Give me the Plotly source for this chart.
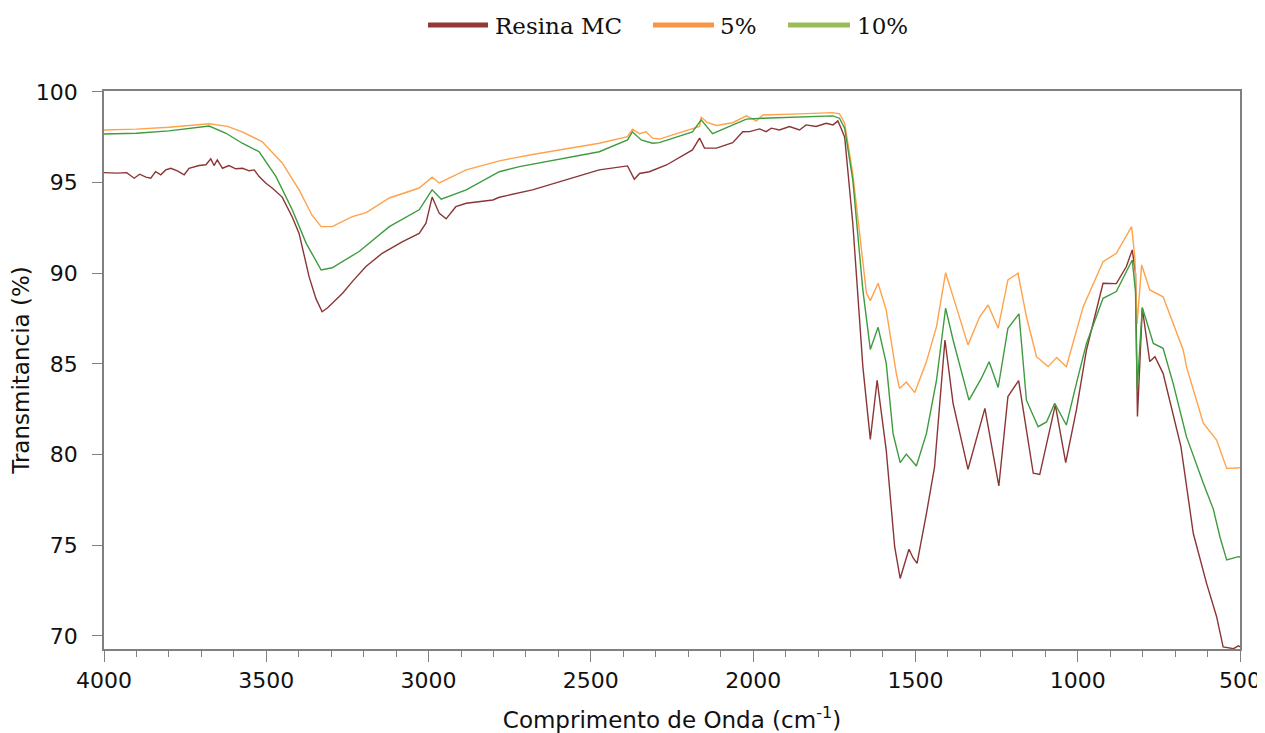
import plotly.graph_objects as go

# ---- Data ----
wn_resina = [4000, 3960, 3930, 3907, 3890, 3871, 3856, 3841, 3825, 3810, 3794, 3774, 3753, 3738,
             3707, 3686, 3671, 3661, 3651, 3635, 3615, 3594, 3573, 3553, 3537, 3522, 3501, 3481,
             3451, 3420, 3399, 3368, 3347, 3328, 3311, 3297, 3265, 3235, 3193, 3143, 3080, 3029,
             3008, 2989, 2967, 2946, 2916, 2884, 2802, 2782, 2680, 2474, 2387, 2366, 2350, 2320,
             2267, 2187, 2165, 2150, 2113, 2063, 2032, 2011, 1980, 1960, 1944, 1919, 1888, 1857,
             1837, 1806, 1775, 1754, 1739, 1729, 1718, 1693, 1672, 1662, 1639, 1618, 1590, 1564,
             1547, 1520, 1507, 1495, 1466, 1441, 1409, 1384, 1338, 1286, 1243, 1215, 1182, 1137,
             1117, 1069, 1037, 1004, 973, 922, 881, 850, 832, 822, 816, 801, 778, 762, 737, 682,
             644, 603, 572, 552, 520, 505, 500]
t_resina = [95.55, 95.52, 95.55, 95.24, 95.46, 95.30, 95.24, 95.60, 95.43, 95.70, 95.79, 95.65,
            95.43, 95.79, 95.94, 95.98, 96.31, 95.94, 96.25, 95.79, 95.94, 95.76, 95.79, 95.65,
            95.70, 95.33, 94.96, 94.69, 94.20, 93.10, 92.20, 89.80, 88.60, 87.88, 88.10, 88.34,
            88.90, 89.54, 90.37, 91.10, 91.74, 92.20, 92.76, 94.20, 93.30, 93.00, 93.67, 93.86,
            94.04, 94.19, 94.60, 95.70, 95.92, 95.18, 95.50, 95.60, 95.97, 96.80, 97.45, 96.90,
            96.90, 97.20, 97.80, 97.81, 97.96, 97.81, 98.00, 97.90, 98.09, 97.90, 98.18, 98.09,
            98.27, 98.18, 98.40, 98.00, 97.50, 92.76, 87.24, 84.85, 80.84, 84.10, 80.25, 74.92,
            73.17, 74.78, 74.30, 74.00, 76.76, 79.33, 86.32, 82.83, 79.19, 82.55, 78.27, 83.20,
            84.08, 78.97, 78.90, 82.74, 79.56, 82.46, 85.77, 89.45, 89.43, 90.37, 91.29, 90.00,
            82.10, 88.07, 85.13, 85.40, 84.48, 80.44, 75.66, 72.90, 71.06, 69.40, 69.30, 69.45,
            69.40]

wn_5 = [4000, 3900, 3800, 3676, 3620, 3574, 3513, 3451, 3399, 3359, 3331, 3297, 3235, 3192,
        3121, 3029, 2989, 2967, 2884, 2782, 2680, 2474, 2387, 2372, 2350, 2330, 2310, 2289,
        2165, 2160, 2140, 2113, 2063, 2021, 1990, 1970, 1857, 1755, 1734, 1718, 1693, 1672,
        1651, 1639, 1615, 1590, 1559, 1549, 1528, 1502, 1466, 1435, 1407, 1384, 1338, 1302,
        1276, 1245, 1215, 1184, 1158, 1127, 1091, 1065, 1035, 983, 922, 881, 834, 824, 817,
        803, 778, 737, 675, 665, 613, 572, 541, 505, 500]
t_5 = [97.90, 97.95, 98.05, 98.24, 98.10, 97.80, 97.26, 96.08, 94.60, 93.20, 92.57, 92.57,
       93.12, 93.34, 94.15, 94.70, 95.30, 94.98, 95.70, 96.20, 96.55, 97.17, 97.53, 97.94,
       97.70, 97.80, 97.45, 97.40, 98.10, 98.60, 98.30, 98.15, 98.30, 98.68, 98.40, 98.73,
       98.79, 98.86, 98.79, 98.27, 95.50, 92.20, 88.90, 88.49, 89.45, 87.97, 84.48, 83.65,
       84.00, 83.42, 85.13, 87.06, 90.03, 88.71, 86.05, 87.60, 88.25, 86.97, 89.63, 90.00,
       87.60, 85.40, 84.85, 85.36, 84.85, 88.16, 90.64, 91.10, 92.57, 90.90, 87.20, 90.46,
       89.08, 88.70, 85.77, 84.85, 81.73, 80.80, 79.24, 79.26, 79.30]

wn_10 = [4000, 3900, 3800, 3676, 3624, 3574, 3522, 3470, 3420, 3377, 3331, 3297, 3214, 3121,
         3029, 2989, 2961, 2884, 2782, 2720, 2474, 2387, 2372, 2345, 2310, 2289, 2187, 2160,
         2125, 2063, 2021, 1970, 1857, 1755, 1734, 1718, 1693, 1662, 1639, 1615, 1590, 1569,
         1547, 1528, 1497, 1466, 1435, 1407, 1384, 1335, 1297, 1273, 1245, 1215, 1181, 1158,
         1122, 1096, 1071, 1035, 1004, 973, 922, 881, 832, 822, 817, 801, 767, 737, 706, 665,
         613, 582, 562, 541, 505, 500]
t_10 = [97.68, 97.72, 97.85, 98.12, 97.72, 97.17, 96.70, 95.33, 93.50, 91.65, 90.18, 90.30,
        91.20, 92.57, 93.50, 94.60, 94.08, 94.60, 95.60, 95.88, 96.70, 97.35, 97.80, 97.35,
        97.17, 97.20, 97.80, 98.46, 97.70, 98.18, 98.50, 98.55, 98.60, 98.68, 98.55, 98.00,
        95.15, 89.08, 85.80, 87.02, 85.04, 81.17, 79.56, 80.03, 79.37, 81.17, 84.10, 88.07,
        86.32, 83.00, 84.20, 85.12, 83.70, 86.97, 87.76, 83.00, 81.54, 81.80, 82.83, 81.63,
        83.93, 86.13, 88.62, 88.99, 90.73, 89.00, 83.56, 88.12, 86.13, 85.86, 83.93, 80.99,
        78.42, 76.98, 75.47, 74.19, 74.37, 74.35]

series_names = ["Resina MC", "5%", "10%"]
line_colors = ["#8B3535", "#FFA24A", "#3E9B3E"]
legend_colors = ["#953735", "#F79646", "#9BBB59"]
x_ticks = [4000, 3500, 3000, 2500, 2000, 1500, 1000, 500]
y_ticks = [70, 75, 80, 85, 90, 95, 100]

# ---- layout geometry (page pixels; page body has an 8px margin) ----
BODY = 8
PL, PR, PT, PB = 104, 1240, 91, 649          # plot area in page pixels
W, H = 1265 - BODY, 733 - BODY


def px2paper_x(px):
    return (px - PL) / (PR - PL)


def px2paper_y(py):
    return (PB - py) / (PB - PT)


fig = go.Figure()
for name, xs, ys, c in zip(series_names, [wn_resina, wn_5, wn_10], [t_resina, t_5, t_10], line_colors):
    fig.add_trace(go.Scatter(x=xs, y=ys, mode="lines", name=name, showlegend=False,
                             line=dict(color=c, width=1.4)))

# custom legend (line samples + text) at the top
legend_line_px = [(428, 488), (653, 714), (788, 850)]
legend_text_px = [493, 718, 855]
shapes = []
annotations = []
for name, c, (x0, x1), tx in zip(series_names, legend_colors, legend_line_px, legend_text_px):
    shapes.append(dict(type="line", xref="paper", yref="paper",
                       x0=px2paper_x(x0), x1=px2paper_x(x1),
                       y0=px2paper_y(25), y1=px2paper_y(25),
                       line=dict(color=c, width=5)))
    annotations.append(dict(text=name, xref="paper", yref="paper",
                            x=px2paper_x(tx), y=px2paper_y(26), xanchor="left", yanchor="middle",
                            showarrow=False,
                            font=dict(family="DejaVu Serif", size=23, color="#111111")))

axis_font = dict(family="DejaVu Sans", size=22, color="#111111")
fig.update_layout(
    width=W, height=H,
    margin=dict(l=PL - BODY, r=1265 - PR, t=PT - BODY, b=H + BODY - PB),
    paper_bgcolor="white", plot_bgcolor="white",
    showlegend=False,
    shapes=shapes,
    annotations=annotations,
    xaxis=dict(range=[4000, 500], tickvals=x_ticks, ticks="outside", ticklen=11,
               tickcolor="#808080", tickwidth=1, showgrid=False, zeroline=False,
               showline=True, linecolor="#808080", linewidth=1.5, mirror=True,
               tickfont=axis_font, automargin=False,
               minor=dict(dtick=100, ticks="outside", ticklen=6, tickcolor="#808080", showgrid=False),
               title=dict(text="Comprimento de Onda (cm<sup>-1</sup>)",
                          font=dict(family="DejaVu Sans", size=23, color="#111111"), standoff=20)),
    yaxis=dict(range=[69.28, 100.05], tickvals=y_ticks, ticks="outside", ticklen=10,
               tickcolor="#808080", tickwidth=1, showgrid=False, zeroline=False,
               showline=True, linecolor="#808080", linewidth=1.5, mirror=True,
               tickfont=axis_font, ticklabelstandoff=10, automargin=False,
               title=dict(text="Transmitancia (%)",
                          font=dict(family="DejaVu Sans", size=23, color="#111111"), standoff=1)),
)

fig.write_html("out.html")
